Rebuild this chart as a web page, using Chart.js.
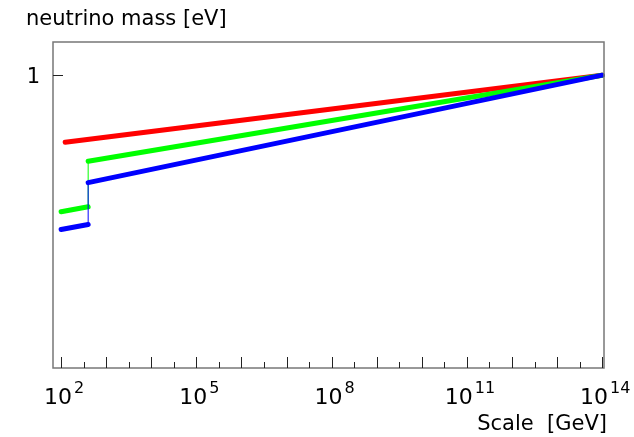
<!DOCTYPE html>
<html>
<head>
<meta charset="utf-8">
<script src="https://cdn.jsdelivr.net/npm/chart.js@4/dist/chart.umd.min.js"></script>
<style>
  html, body { margin: 0; padding: 0; background: #fff; }
  #wrap { width: 634px; height: 437px; position: relative; }
</style>
</head>
<body>
<div id="wrap"><canvas id="chart"></canvas></div>
<script>
// scale in GeV, neutrino mass in eV
const redScale = [123, 1e14];
const redMass = [0.692, 1.0];
const greenScale = [100, 398, 398, 1e14];
const greenMass = [0.472, 0.485, 0.623, 1.0];
const blueScale = [100, 398, 398, 1e14];
const blueMass = [0.428, 0.440, 0.554, 1.0];

const xLabelExponents = [2, 5, 8, 11, 14];
const yTickValues = [1];

function toPoints(xs, ys) {
  return xs.map((x, i) => ({ x: x, y: ys[i] }));
}

// the step at the threshold is drawn as a thin line
const thinStep = {
  borderWidth: ctx => ctx.p0.parsed.x === ctx.p1.parsed.x ? 1 : 5
};

const frame = {
  id: 'frame',
  afterDraw(chart) {
    const c = chart.ctx;
    const a = chart.chartArea;
    const xs = chart.scales.x;
    const ys = chart.scales.y;
    c.save();
    c.strokeStyle = '#777';
    c.lineWidth = 1.5;
    c.strokeRect(a.left, a.top, a.right - a.left, a.bottom - a.top);

    // x ticks, every half decade, pointing inward
    c.strokeStyle = '#222';
    c.lineWidth = 1;
    for (let e = 2; e <= 14; e += 0.5) {
      const px = Math.round(xs.getPixelForValue(Math.pow(10, e))) + 0.5;
      const len = Number.isInteger(e) ? 11 : 6;
      c.beginPath();
      c.moveTo(px, a.bottom);
      c.lineTo(px, a.bottom - len);
      c.stroke();
    }
    // y ticks
    yTickValues.forEach(v => {
      const py = Math.round(ys.getPixelForValue(v)) + 0.5;
      c.beginPath();
      c.moveTo(a.left, py);
      c.lineTo(a.left + 10, py);
      c.stroke();
      c.fillStyle = '#000';
      c.font = '21px "DejaVu Sans"';
      c.textAlign = 'right';
      c.textBaseline = 'alphabetic';
      c.fillText(String(v), 40, 83);
    });

    // x labels 10^n
    c.fillStyle = '#000';
    c.textBaseline = 'alphabetic';
    c.textAlign = 'left';
    xLabelExponents.forEach(e => {
      const px = xs.getPixelForValue(Math.pow(10, e));
      c.font = '22px "DejaVu Sans"';
      const wBase = c.measureText('10').width;
      c.font = '16px "DejaVu Sans"';
      const wExp = c.measureText(String(e)).width;
      const x0 = px - (wBase + wExp) / 2 + 2;
      c.font = '22px "DejaVu Sans"';
      c.fillText('10', x0, 404);
      c.font = '16px "DejaVu Sans"';
      c.fillText(String(e), x0 + wBase + 2, 393);
    });

    // axis titles
    c.font = '21px "DejaVu Sans"';
    c.textAlign = 'right';
    c.fillText('Scale  [GeV]', 607, 430);
    c.textAlign = 'left';
    c.fillText('neutrino mass [eV]', 26, 25);
    c.restore();
  }
};

new Chart(document.getElementById('chart'), {
  type: 'line',
  data: {
    datasets: [
      {
        label: 'red',
        data: toPoints(redScale, redMass),
        borderColor: '#ff0000',
        borderWidth: 5,
        order: 3
      },
      {
        label: 'green',
        data: toPoints(greenScale, greenMass),
        borderColor: '#00ff00',
        borderWidth: 5,
        segment: thinStep,
        order: 2
      },
      {
        label: 'blue',
        data: toPoints(blueScale, blueMass),
        borderColor: '#0000ff',
        borderWidth: 5,
        segment: thinStep,
        order: 1
      }
    ]
  },
  options: {
    responsive: true,
    maintainAspectRatio: false,
    animation: false,
    layout: { padding: { left: 53, right: 30, top: 42, bottom: 69 } },
    elements: {
      point: { radius: 0 },
      line: { tension: 0, borderCapStyle: 'round', fill: false }
    },
    datasets: { line: { clip: false } },
    plugins: {
      legend: { display: false },
      tooltip: { enabled: false }
    },
    scales: {
      x: {
        type: 'logarithmic',
        display: false,
        min: Math.pow(10, 1.82),
        max: Math.pow(10, 14.04)
      },
      y: {
        type: 'logarithmic',
        display: false,
        min: 0.2,
        max: 1.2
      }
    }
  },
  plugins: [frame]
});
</script>
</body>
</html>
